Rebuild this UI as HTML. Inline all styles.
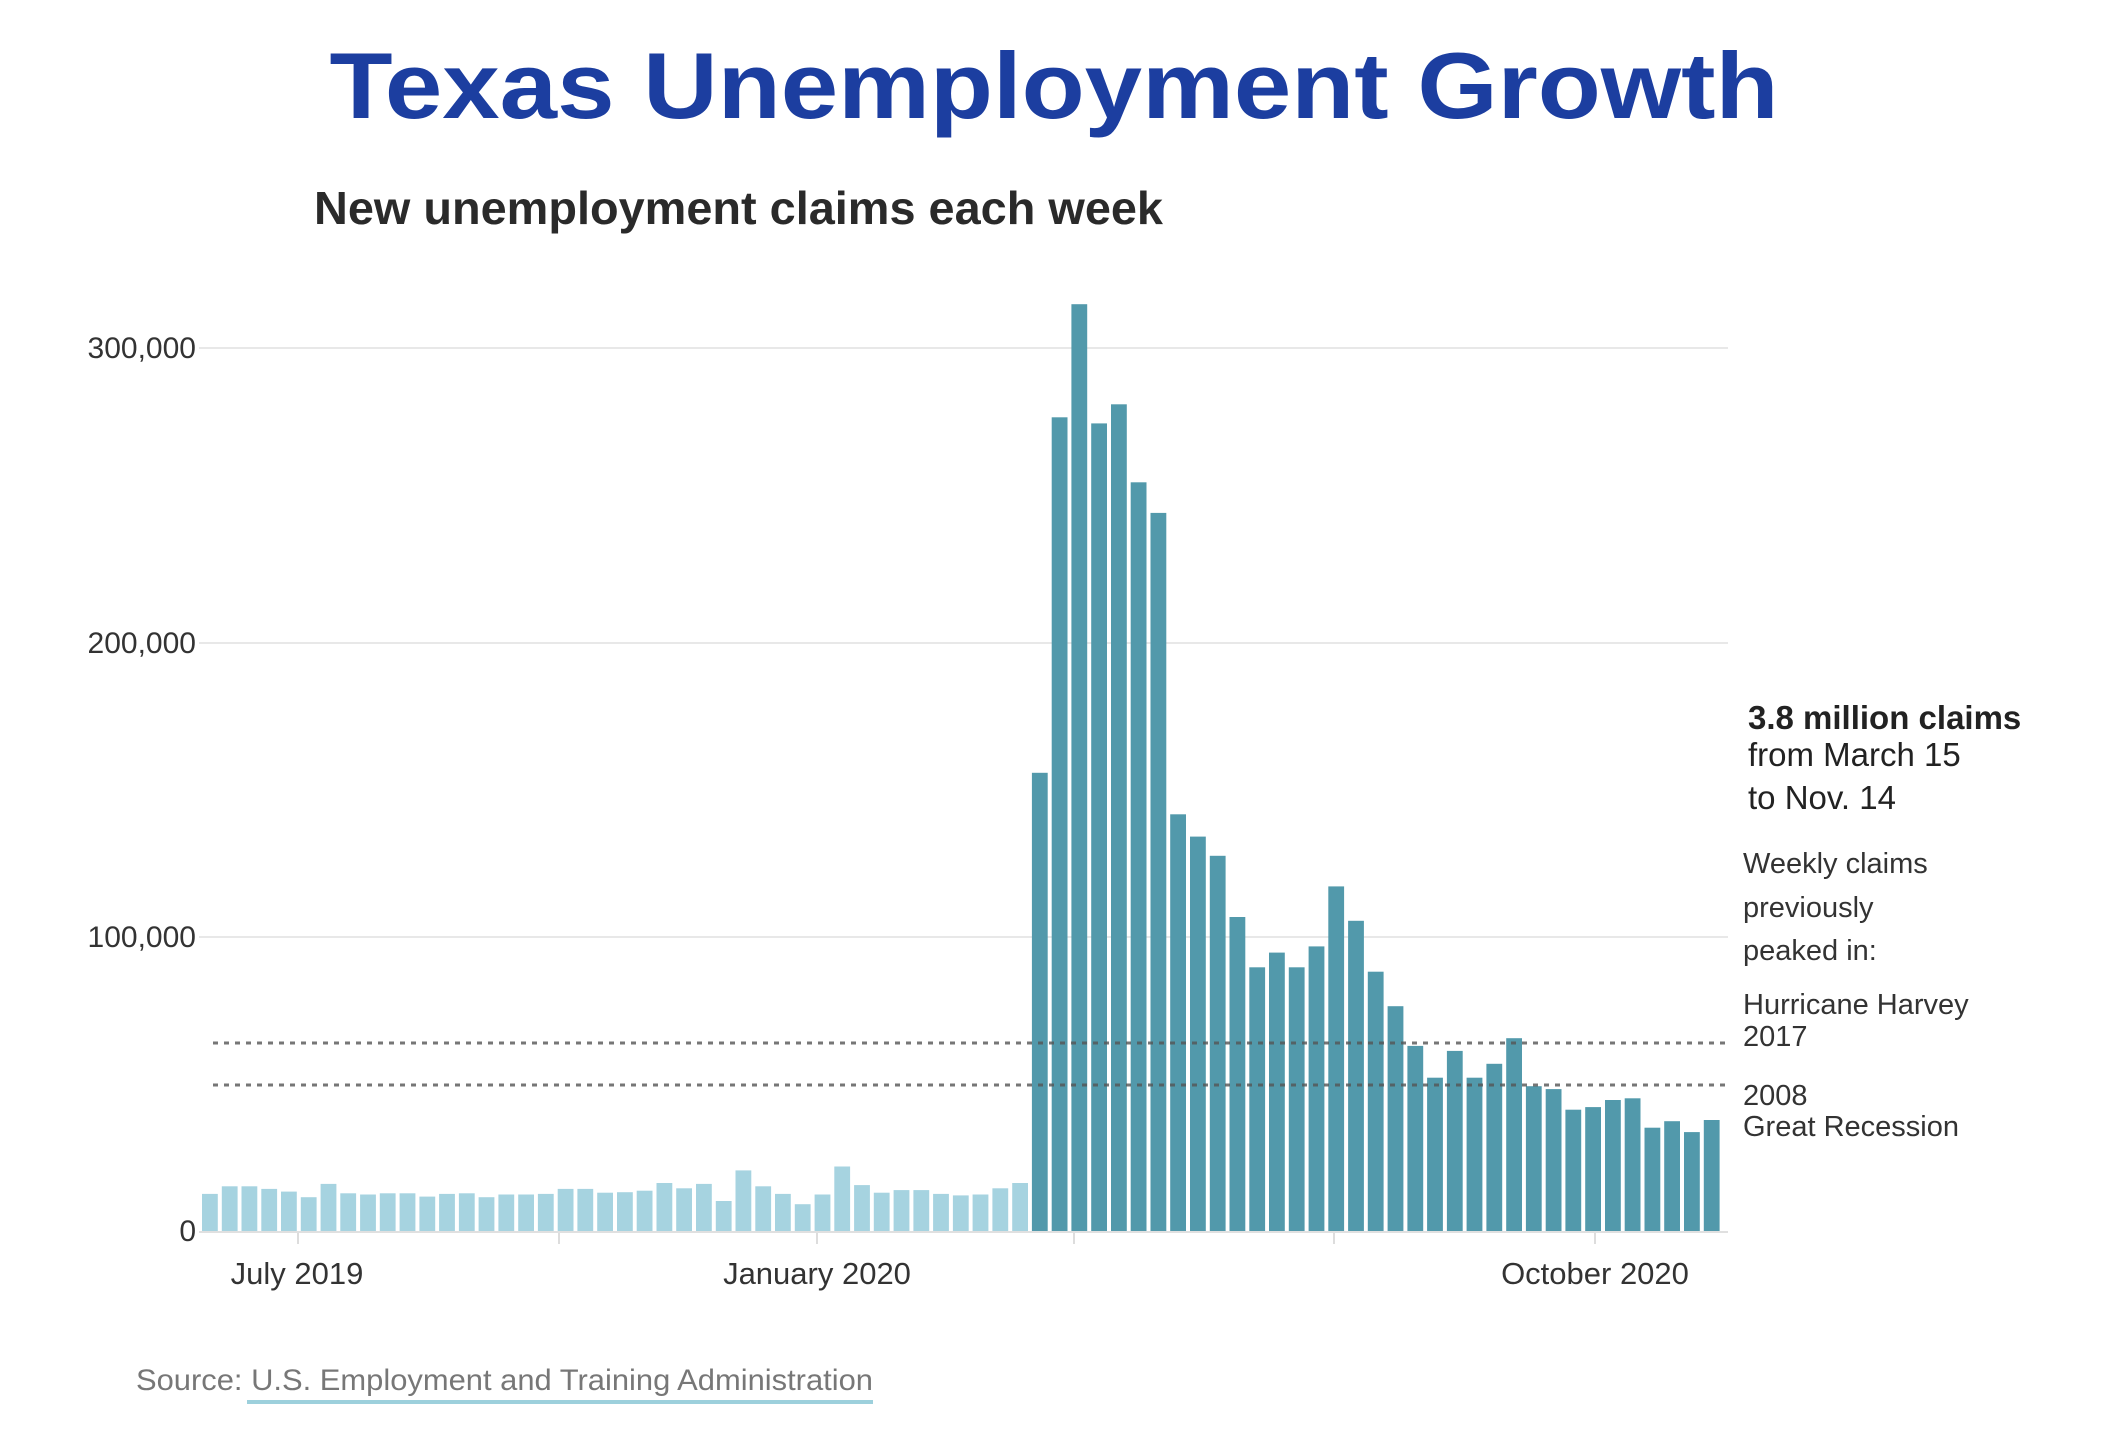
<!DOCTYPE html>
<html><head><meta charset="utf-8"><style>
html,body{margin:0;padding:0;background:#fff;}
svg{display:block;}
text{font-family:"Liberation Sans",sans-serif;}
</style></head><body>
<svg id="s" width="2112" height="1440" viewBox="0 0 2112 1440" xmlns="http://www.w3.org/2000/svg">
<text x="1054" y="118" text-anchor="middle" font-size="94" font-weight="bold" fill="#1c3ea0" textLength="1449" lengthAdjust="spacingAndGlyphs">Texas Unemployment Growth</text>
<text x="314" y="224" font-size="46" font-weight="bold" fill="#2a2a2a" textLength="849" lengthAdjust="spacingAndGlyphs">New unemployment claims each week</text>
<g stroke="#e8e8e8" stroke-width="2">
<line x1="199" y1="348" x2="1728" y2="348"/>
<line x1="199" y1="643" x2="1728" y2="643"/>
<line x1="199" y1="937" x2="1728" y2="937"/>
</g>
<g font-size="30" fill="#333" text-anchor="end">
<text x="196" y="358">300,000</text>
<text x="196" y="653">200,000</text>
<text x="196" y="947">100,000</text>
<text x="196" y="1241">0</text>
</g>
<g id="bars"></g>
<line x1="199" y1="1232" x2="1728" y2="1232" stroke="#e0e0e0" stroke-width="2"/>
<g stroke="#ddd" stroke-width="2">
<line x1="298" y1="1233" x2="298" y2="1244"/><line x1="559" y1="1233" x2="559" y2="1244"/>
<line x1="817" y1="1233" x2="817" y2="1244"/><line x1="1074" y1="1233" x2="1074" y2="1244"/>
<line x1="1334" y1="1233" x2="1334" y2="1244"/><line x1="1595" y1="1233" x2="1595" y2="1244"/>
</g>
<g stroke="#555" stroke-width="3" stroke-dasharray="5,6" opacity="0.8">
<line x1="213" y1="1043" x2="1728" y2="1043"/>
<line x1="213" y1="1085" x2="1728" y2="1085"/>
</g>
<g font-size="31" fill="#333" text-anchor="middle">
<text x="297" y="1284">July 2019</text>
<text x="817" y="1284">January 2020</text>
<text x="1595" y="1284">October 2020</text>
</g>
<g font-size="33" fill="#222">
<text x="1748" y="729" font-weight="bold">3.8 million claims</text>
<text x="1748" y="766">from March 15</text>
<text x="1748" y="809">to Nov. 14</text>
</g>
<g font-size="29" fill="#333">
<text x="1743" y="873">Weekly claims</text>
<text x="1743" y="917">previously</text>
<text x="1743" y="960">peaked in:</text>
<text x="1743" y="1014">Hurricane Harvey</text>
<text x="1743" y="1046">2017</text>
<text x="1743" y="1105">2008</text>
<text x="1743" y="1136">Great Recession</text>
</g>
<text x="136" y="1390" font-size="30" fill="#777" textLength="737" lengthAdjust="spacingAndGlyphs">Source: U.S. Employment and Training Administration</text>
<line x1="247" y1="1402" x2="873" y2="1402" stroke="#9dd0dc" stroke-width="4"/>
</svg>
<script>
var light=[12.6,15.2,15.2,14.3,13.4,11.5,16.0,12.8,12.4,12.8,12.8,11.7,12.6,12.8,11.5,12.4,12.4,12.6,14.3,14.3,13.0,13.2,13.7,16.3,14.5,16.0,10.2,20.6,15.2,12.6,9.1,12.4,21.9,15.6,13.0,13.9,13.9,12.6,12.1,12.4,14.5,16.3];
var dark=[155.7,276.5,314.9,274.4,280.9,254.4,244,141.6,134,127.5,106.7,89.6,94.6,89.6,96.7,117.1,105.4,88.1,76.4,62.9,52.1,61.2,52.1,56.8,65.5,49.2,48.2,41.2,42.1,44.5,45.1,35.1,37.3,33.6,37.7];
var g=document.getElementById('bars'),ns='http://www.w3.org/2000/svg';
var all=light.concat(dark);
for(var i=0;i<all.length;i++){var h=all[i]*2.943;var r=document.createElementNS(ns,'rect');
r.setAttribute('x',(202+i*19.76).toFixed(1));r.setAttribute('y',(1231-h).toFixed(1));
r.setAttribute('width','15.8');r.setAttribute('height',h.toFixed(1));
r.setAttribute('fill',i<light.length?'#a6d3e0':'#5299ab');g.appendChild(r);}
</script>
</body></html>
